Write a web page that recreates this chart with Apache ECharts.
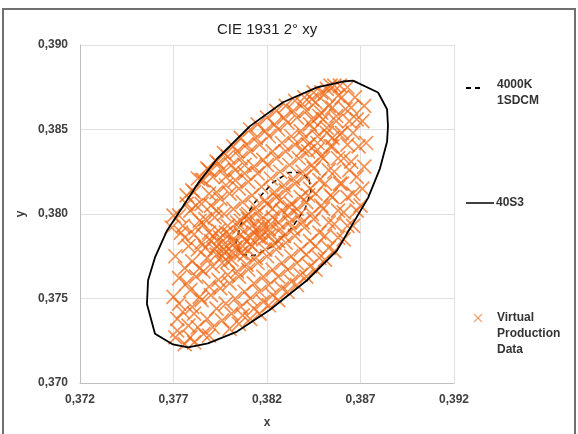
<!DOCTYPE html>
<html>
<head>
<meta charset="utf-8">
<script src="https://cdn.jsdelivr.net/npm/echarts@6/dist/echarts.min.js"></script>
<style>
  html, body { margin: 0; padding: 0; background: #ffffff; }
  #chart { width: 578px; height: 434px; }
</style>
</head>
<body>
<div id="chart"></div>
<script>
// Axis ticks (CIE 1931 x and y chromaticity)
const xTicks = [0.372, 0.377, 0.382, 0.387, 0.392];
const yTicks = [0.370, 0.375, 0.380, 0.385, 0.390];

// Series names
const seriesNames = ['4000K 1SDCM', '40S3', 'Virtual Production Data'];

// 40S3 tolerance ellipse, traced as a closed polygon [x, y]
const ellipse40S3 = [
  [0.38660, 0.38789], [0.38794, 0.38719], [0.38842, 0.38620], [0.38847, 0.38520],
  [0.38842, 0.38427], [0.38804, 0.38269], [0.38740, 0.38094], [0.38574, 0.37784],
  [0.38414, 0.37608], [0.38216, 0.37433], [0.38040, 0.37304], [0.37884, 0.37234],
  [0.37778, 0.37211], [0.37697, 0.37228], [0.37601, 0.37292], [0.37558, 0.37468],
  [0.37564, 0.37608], [0.37601, 0.37743], [0.37665, 0.37901], [0.37745, 0.38035],
  [0.37831, 0.38181], [0.37933, 0.38327], [0.38109, 0.38520], [0.38286, 0.38661],
  [0.38467, 0.38749], [0.38606, 0.38784], [0.38660, 0.38789]
];

// 4000K one-step MacAdam ellipse [x, y]
const ellipse1SDCM = [
  [0.38425, 0.38205], [0.38435, 0.38135], [0.38403, 0.38029], [0.38328, 0.37912],
  [0.38227, 0.37807], [0.38130, 0.37754], [0.38061, 0.37760], [0.38034, 0.37830],
  [0.38061, 0.37942], [0.38136, 0.38070], [0.38232, 0.38187], [0.38318, 0.38246],
  [0.38382, 0.38246], [0.38425, 0.38205]
];

// Measured chromaticities [x, y]
const productionData = [
  [0.3771,0.3727],[0.3772,0.3738],[0.3770,0.3751],[0.3773,0.3762],[0.3771,0.3775],[0.3774,0.3789],[0.3770,0.3799],[0.3773,0.3747],[0.3772,0.3731],
  [0.3776,0.3723],[0.3778,0.3734],[0.3775,0.3742],[0.3779,0.3755],[0.3776,0.3768],[0.3778,0.3781],[0.3775,0.3793],[0.3779,0.3802],[0.3777,0.3811],[0.3777,0.3759],[0.3779,0.3727],[0.3776,0.3786],
  [0.3781,0.3724],[0.3783,0.3733],[0.3780,0.3745],[0.3784,0.3751],[0.3782,0.3763],[0.3780,0.3772],[0.3783,0.3779],[0.3781,0.3788],[0.3784,0.3796],[0.3782,0.3805],[0.3780,0.3814],[0.3783,0.3821],[0.3781,0.3741],[0.3784,0.3768],[0.3782,0.3792],
  [0.3786,0.3729],[0.3788,0.3738],[0.3785,0.3749],[0.3789,0.3757],[0.3786,0.3766],[0.3788,0.3774],[0.3785,0.3783],[0.3789,0.3789],[0.3787,0.3797],[0.3785,0.3806],[0.3789,0.3812],[0.3786,0.3820],[0.3788,0.3827],[0.3787,0.3780],[0.3786,0.3794],
  [0.3791,0.3733],[0.3793,0.3744],[0.3790,0.3752],[0.3794,0.3761],[0.3791,0.3769],[0.3793,0.3776],[0.3790,0.3784],[0.3794,0.3790],[0.3792,0.3798],[0.3790,0.3805],[0.3793,0.3813],[0.3791,0.3822],[0.3794,0.3830],[0.3792,0.3779],[0.3791,0.3787],[0.3793,0.3802],
  [0.3796,0.3737],[0.3798,0.3747],[0.3795,0.3756],[0.3799,0.3764],[0.3796,0.3771],[0.3798,0.3778],[0.3795,0.3786],[0.3799,0.3793],[0.3797,0.3800],[0.3795,0.3809],[0.3798,0.3817],[0.3796,0.3826],[0.3799,0.3834],[0.3797,0.3782],[0.3796,0.3775],[0.3798,0.3789],
  [0.3801,0.3741],[0.3803,0.3750],[0.3800,0.3759],[0.3804,0.3766],[0.3801,0.3773],[0.3803,0.3780],[0.3800,0.3788],[0.3804,0.3795],[0.3802,0.3803],[0.3800,0.3812],[0.3803,0.3820],[0.3801,0.3829],[0.3804,0.3837],[0.3802,0.3777],[0.3801,0.3784],
  [0.3806,0.3745],[0.3808,0.3754],[0.3805,0.3763],[0.3809,0.3770],[0.3806,0.3777],[0.3808,0.3785],[0.3805,0.3792],[0.3809,0.3799],[0.3807,0.3807],[0.3805,0.3815],[0.3808,0.3824],[0.3806,0.3833],[0.3809,0.3841],[0.3807,0.3781],[0.3806,0.3796],
  [0.3811,0.3750],[0.3813,0.3759],[0.3810,0.3767],[0.3814,0.3774],[0.3811,0.3782],[0.3813,0.3789],[0.3810,0.3797],[0.3814,0.3804],[0.3812,0.3811],[0.3810,0.3819],[0.3813,0.3828],[0.3811,0.3837],[0.3814,0.3845],[0.3812,0.3793],[0.3811,0.3786],
  [0.3816,0.3754],[0.3818,0.3763],[0.3815,0.3771],[0.3819,0.3779],[0.3816,0.3786],[0.3818,0.3793],[0.3815,0.3801],[0.3819,0.3808],[0.3817,0.3816],[0.3815,0.3824],[0.3818,0.3832],[0.3816,0.3841],[0.3819,0.3849],[0.3817,0.3797],[0.3816,0.3789],
  [0.3821,0.3758],[0.3823,0.3767],[0.3820,0.3775],[0.3824,0.3783],[0.3821,0.3791],[0.3823,0.3798],[0.3820,0.3806],[0.3824,0.3813],[0.3822,0.3821],[0.3820,0.3829],[0.3823,0.3837],[0.3821,0.3846],[0.3824,0.3853],[0.3822,0.3794],[0.3821,0.3787],
  [0.3826,0.3763],[0.3828,0.3771],[0.3825,0.3779],[0.3829,0.3787],[0.3826,0.3795],[0.3828,0.3802],[0.3825,0.3810],[0.3829,0.3817],[0.3827,0.3825],[0.3825,0.3833],[0.3828,0.3842],[0.3826,0.3850],[0.3829,0.3857],[0.3827,0.3791],[0.3826,0.3784],
  [0.3831,0.3767],[0.3833,0.3775],[0.3830,0.3783],[0.3834,0.3791],[0.3831,0.3799],[0.3833,0.3806],[0.3830,0.3814],[0.3834,0.3821],[0.3832,0.3829],[0.3830,0.3837],[0.3833,0.3846],[0.3831,0.3854],[0.3834,0.3861],[0.3832,0.3795],
  [0.3836,0.3771],[0.3838,0.3779],[0.3835,0.3787],[0.3839,0.3795],[0.3836,0.3803],[0.3838,0.3810],[0.3835,0.3818],[0.3839,0.3825],[0.3837,0.3833],[0.3835,0.3841],[0.3838,0.3849],[0.3836,0.3857],[0.3839,0.3865],[0.3837,0.3799],
  [0.3841,0.3776],[0.3843,0.3784],[0.3840,0.3792],[0.3844,0.3800],[0.3841,0.3807],[0.3843,0.3815],[0.3840,0.3822],[0.3844,0.3829],[0.3842,0.3837],[0.3840,0.3845],[0.3843,0.3853],[0.3841,0.3861],[0.3844,0.3868],[0.3842,0.3811],
  [0.3846,0.3781],[0.3848,0.3789],[0.3845,0.3797],[0.3849,0.3805],[0.3846,0.3812],[0.3848,0.3820],[0.3845,0.3827],[0.3849,0.3834],[0.3847,0.3842],[0.3845,0.3850],[0.3848,0.3858],[0.3846,0.3866],[0.3849,0.3872],[0.3847,0.3838],
  [0.3851,0.3787],[0.3853,0.3795],[0.3850,0.3803],[0.3854,0.3811],[0.3851,0.3818],[0.3853,0.3826],[0.3850,0.3833],[0.3854,0.3840],[0.3852,0.3848],[0.3850,0.3856],[0.3853,0.3864],[0.3851,0.3871],[0.3854,0.3876],
  [0.3856,0.3794],[0.3858,0.3802],[0.3855,0.3810],[0.3859,0.3818],[0.3856,0.3825],[0.3858,0.3833],[0.3855,0.3840],[0.3859,0.3847],[0.3857,0.3855],[0.3855,0.3863],[0.3858,0.3870],[0.3856,0.3876],
  [0.3861,0.3801],[0.3863,0.3810],[0.3860,0.3818],[0.3864,0.3826],[0.3861,0.3833],[0.3863,0.3841],[0.3860,0.3848],[0.3864,0.3855],[0.3862,0.3862],[0.3860,0.3869],[0.3863,0.3875],
  [0.3866,0.3812],[0.3868,0.3822],[0.3865,0.3831],[0.3869,0.3840],[0.3866,0.3848],[0.3868,0.3856],[0.3865,0.3863],[0.3867,0.3869],
  [0.3797,0.3779],[0.3803,0.3783],[0.3808,0.3776],[0.3812,0.3781],[0.3799,0.3772],[0.3806,0.3788],[0.3815,0.3792],[0.3793,0.3781],[0.3818,0.3785],[0.3810,0.3800],[0.3823,0.3803],[0.3827,0.3808],[0.3832,0.3804],
  [0.3842,0.3841],[0.3847,0.3846],[0.3852,0.3851],[0.3849,0.3860],[0.3857,0.3858],[0.3844,0.3856],[0.3839,0.3838],[0.3855,0.3845],
  [0.3803,0.3826],[0.3798,0.3822],[0.3808,0.3829],
  // upper-left rim
  [0.3769,0.3792],[0.3773,0.3799],[0.3777,0.3806],[0.3781,0.3813],[0.3785,0.3820],[0.3789,0.3826],[0.3793,0.3831],[0.3797,0.3836],[0.3802,0.3840],[0.3806,0.3845],
  [0.3811,0.3850],[0.3815,0.3853],[0.3820,0.3857],[0.3825,0.3861],[0.3830,0.3864],[0.3835,0.3867],[0.3840,0.3869],[0.3845,0.3872],[0.3852,0.3874],[0.3859,0.3876],
  // lower-right rim
  [0.3789,0.3728],[0.3800,0.3732],[0.3805,0.3735],[0.3807,0.3740],[0.3811,0.3738],[0.3813,0.3744],[0.3816,0.3741],[0.3818,0.3748],[0.3821,0.3746],[0.3823,0.3752],
  [0.3826,0.3749],[0.3828,0.3756],[0.3831,0.3754],[0.3833,0.3760],[0.3836,0.3758],[0.3838,0.3764],[0.3841,0.3763],[0.3843,0.3769],[0.3846,0.3767],[0.3848,0.3774],
  [0.3851,0.3773],[0.3853,0.3780],[0.3856,0.3778],[0.3858,0.3786],[0.3861,0.3785],[0.3863,0.3793],[0.3866,0.3793],[0.3868,0.3802],[0.3870,0.3805],[0.3871,0.3815],
  // right cap
  [0.3872,0.3828],[0.3873,0.3842],[0.3871,0.3855],[0.3872,0.3864]
];

const FONT = '"Liberation Sans", Arial, sans-serif';
const ORANGE = 'rgba(238,102,18,0.9)';
const CROSS = 'path://M0,0L10,10M10,0L0,10';
const fmt = v => v.toFixed(3).replace('.', ',');

const chart = echarts.init(document.getElementById('chart'), null, { renderer: 'canvas' });

chart.setOption({
  animation: false,
  backgroundColor: '#ffffff',
  title: {
    text: 'CIE 1931 2° xy',
    left: 212, top: 17,
    textStyle: { fontFamily: FONT, fontSize: 15, fontWeight: 'normal', color: '#222222' }
  },
  grid: { left: 80, right: 124, top: 45, bottom: 47, containLabel: false },
  xAxis: {
    type: 'value', min: xTicks[0], max: xTicks[xTicks.length - 1],
    name: 'x', nameLocation: 'middle', nameGap: 34,
    nameTextStyle: { fontFamily: FONT, fontSize: 12, fontWeight: 'bold', color: '#404040' },
    axisLine: { show: true, lineStyle: { color: '#bfbfbf', width: 1 } },
    axisTick: { show: false, customValues: xTicks },
    axisLabel: { customValues: xTicks, formatter: fmt, margin: 11,
      fontFamily: FONT, fontSize: 12, fontWeight: 'bold', color: '#404040' },
    splitLine: { show: true, lineStyle: { color: '#e0e0e0', width: 1 } }
  },
  yAxis: {
    type: 'value', min: yTicks[0], max: yTicks[yTicks.length - 1], interval: 0.005,
    name: 'y', nameLocation: 'middle', nameGap: 52,
    nameTextStyle: { fontFamily: FONT, fontSize: 12, fontWeight: 'bold', color: '#404040' },
    axisLine: { show: true, lineStyle: { color: '#bfbfbf', width: 1 } },
    axisTick: { show: false },
    axisLabel: { formatter: fmt, margin: 12,
      fontFamily: FONT, fontSize: 12, fontWeight: 'bold', color: '#404040' },
    splitLine: { show: true, lineStyle: { color: '#e0e0e0', width: 1 } }
  },
  series: [
    {
      name: seriesNames[0], type: 'line', data: ellipse1SDCM, z: 2,
      showSymbol: false, silent: true,
      lineStyle: { color: '#000000', width: 1.5, type: [5, 4] }
    },
    {
      name: seriesNames[2], type: 'scatter', data: productionData, z: 3,
      symbol: CROSS, symbolSize: 14,
      itemStyle: { color: 'transparent', borderColor: ORANGE, borderWidth: 1.7 }
    },
    {
      name: seriesNames[1], type: 'line', data: ellipse40S3, z: 4,
      showSymbol: false, silent: true,
      lineStyle: { color: '#000000', width: 1.8 }
    }
  ],
  graphic: [
    // outer chart frame
    { type: 'rect', shape: { x: 3, y: 9, width: 572, height: 440 },
      style: { fill: 'none', stroke: '#707070', lineWidth: 2 }, z: 10 },
    // legend: 4000K 1SDCM
    { type: 'line', shape: { x1: 466, y1: 88, x2: 482, y2: 88 },
      style: { stroke: '#000000', lineWidth: 2, lineDash: [5, 4] } },
    { type: 'text', left: 497, top: 77,
      style: { text: seriesNames[0].replace(' ', '\n'), font: 'bold 12px ' + FONT,
        fill: '#333333', lineHeight: 16 } },
    // legend: 40S3
    { type: 'line', shape: { x1: 466, y1: 203, x2: 494, y2: 203 },
      style: { stroke: '#000000', lineWidth: 1.5 } },
    { type: 'text', left: 496, top: 195,
      style: { text: seriesNames[1], font: 'bold 12px ' + FONT, fill: '#333333', lineHeight: 16 } },
    // legend: Virtual Production Data
    { type: 'line', shape: { x1: 474, y1: 314, x2: 482, y2: 322 },
      style: { stroke: 'rgba(240,130,70,0.7)', lineWidth: 1.3 } },
    { type: 'line', shape: { x1: 482, y1: 314, x2: 474, y2: 322 },
      style: { stroke: 'rgba(240,130,70,0.7)', lineWidth: 1.3 } },
    { type: 'text', left: 497, top: 310,
      style: { text: seriesNames[2].replace(/ /g, '\n'), font: 'bold 12px ' + FONT,
        fill: '#333333', lineHeight: 16 } }
  ]
});
</script>
</body>
</html>
